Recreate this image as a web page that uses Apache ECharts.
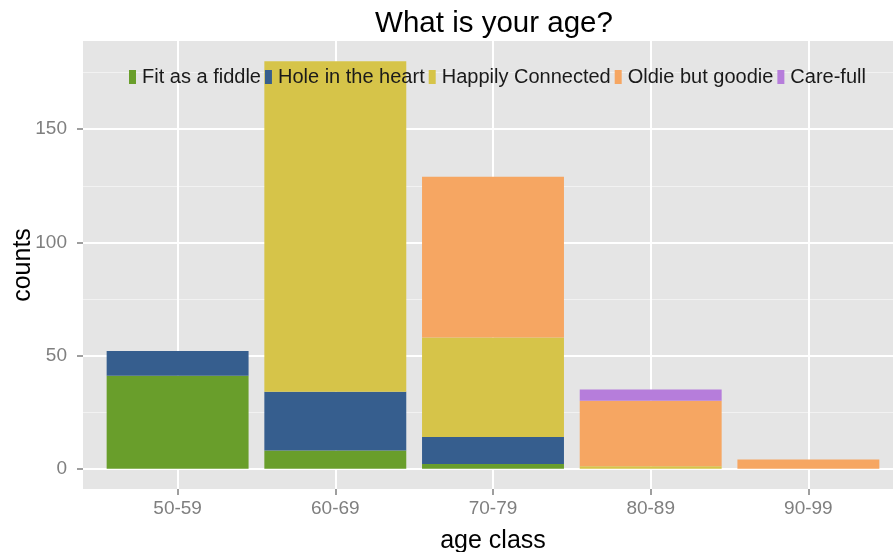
<!DOCTYPE html>
<html>
<head>
<meta charset="utf-8">
<script src="https://cdn.jsdelivr.net/npm/echarts@6/dist/echarts.min.js"></script>
<style>
  html, body { margin: 0; padding: 0; background: #ffffff; }
  #chart { width: 893px; height: 552px; }
</style>
</head>
<body>
<div id="chart"></div>
<script>
// ---- data ----
const categories = ['50-59', '60-69', '70-79', '80-89', '90-99'];
const seriesNames = ['Fit as a fiddle', 'Hole in the heart', 'Happily Connected', 'Oldie but goodie', 'Care-full'];
const fitAsAFiddle     = [41, 8, 2, 0, 0];
const holeInTheHeart   = [11, 26, 12, 0, 0];
const happilyConnected = [0, 146, 44, 1, 0];
const oldieButGoodie   = [0, 0, 71, 29, 4];
const careFull         = [0, 0, 0, 5, 0];
const yMajorTicks = [0, 50, 100, 150];
const yMinorTicks = [25, 75, 125, 175];
const xTickPositions = [0, 1, 2, 3, 4];

const seriesValues = [fitAsAFiddle, holeInTheHeart, happilyConnected, oldieButGoodie, careFull];
const colors = ['#699e2b', '#365e8e', '#d6c449', '#f6a662', '#b67ddb'];

const FONT = '"Liberation Sans", Arial, Helvetica, sans-serif';
const chart = echarts.init(document.getElementById('chart'), null, { renderer: 'canvas' });

const panel = { left: 83, top: 41, width: 820, height: 448 };
const band = panel.width / 5.2;

chart.setOption({
  animation: false,
  backgroundColor: '#ffffff',
  color: colors,
  title: {
    text: 'What is your age?',
    left: 489,
    textAlign: 'center',
    top: 4,
    textStyle: { fontFamily: FONT, fontSize: 29.5, fontWeight: 'normal', color: '#000000' }
  },
  legend: {
    data: seriesNames,
    left: 129,
    top: 67,
    padding: 0,
    itemWidth: 7,
    itemHeight: 14,
    itemGap: 4,
    icon: 'rect',
    textStyle: { fontFamily: FONT, fontSize: 20, color: '#1a1a1a', padding: [0, 0, 0, 1] }
  },
  grid: [
    { left: panel.left, top: panel.top, width: panel.width, height: panel.height,
      show: true, backgroundColor: '#e5e5e5', borderWidth: 0, containLabel: false, outerBoundsMode: 'none' },
    { left: panel.left + 0.6 * band - band / 2, top: panel.top, width: band * 5, height: panel.height,
      show: false, containLabel: false, outerBoundsMode: 'none' }
  ],
  xAxis: [
    {
      gridIndex: 0, type: 'value', min: -0.6, max: 4.6, position: 'bottom',
      name: 'age class', nameLocation: 'middle', nameGap: 40,
      nameTextStyle: { fontFamily: FONT, fontSize: 25, color: '#000000' },
      axisLine: { show: false, onZero: false },
      axisTick: { show: true, length: 6, customValues: xTickPositions, lineStyle: { color: '#7f7f7f', width: 1.5 } },
      axisLabel: { customValues: xTickPositions, margin: 10, fontFamily: FONT, fontSize: 19, color: '#7f7f7f',
        formatter: v => categories[Math.round(v)] },
      splitLine: { show: true, lineStyle: { color: '#ffffff', width: 2 } }
    },
    {
      gridIndex: 1, type: 'category', data: categories, show: false,
      axisLine: { show: false }, axisTick: { show: false }, axisLabel: { show: false }, splitLine: { show: false }
    }
  ],
  yAxis: [
    {
      gridIndex: 0, type: 'value', min: -9, max: 189, position: 'left',
      name: 'counts', nameLocation: 'middle', nameGap: 47, nameRotate: 90, nameMoveOverlap: false,
      nameTextStyle: { fontFamily: FONT, fontSize: 25, color: '#000000' },
      axisLine: { show: false, onZero: false },
      axisTick: { show: true, length: 6, customValues: yMajorTicks, lineStyle: { color: '#7f7f7f', width: 1.5 } },
      axisLabel: { customValues: yMajorTicks, margin: 16, fontFamily: FONT, fontSize: 19, color: '#7f7f7f' },
      splitLine: { show: true, lineStyle: { color: '#ffffff', width: 2 } }
    },
    {
      gridIndex: 0, type: 'value', min: -9, max: 189, position: 'left',
      axisLine: { show: false, onZero: false },
      axisTick: { show: false, customValues: yMinorTicks },
      axisLabel: { show: false, customValues: yMinorTicks },
      splitLine: { show: true, lineStyle: { color: '#f2f2f2', width: 1 } }
    },
    {
      gridIndex: 1, type: 'value', min: -9, max: 189, show: false,
      axisLine: { show: false, onZero: false }, axisTick: { show: false }, axisLabel: { show: false }, splitLine: { show: false }
    }
  ],
  series: seriesNames.map((name, i) => ({
    name: name,
    type: 'bar',
    stack: 'total',
    xAxisIndex: 1,
    yAxisIndex: 2,
    barWidth: '90%',
    data: seriesValues[i],
    itemStyle: { color: colors[i] }
  }))
});
</script>
</body>
</html>
